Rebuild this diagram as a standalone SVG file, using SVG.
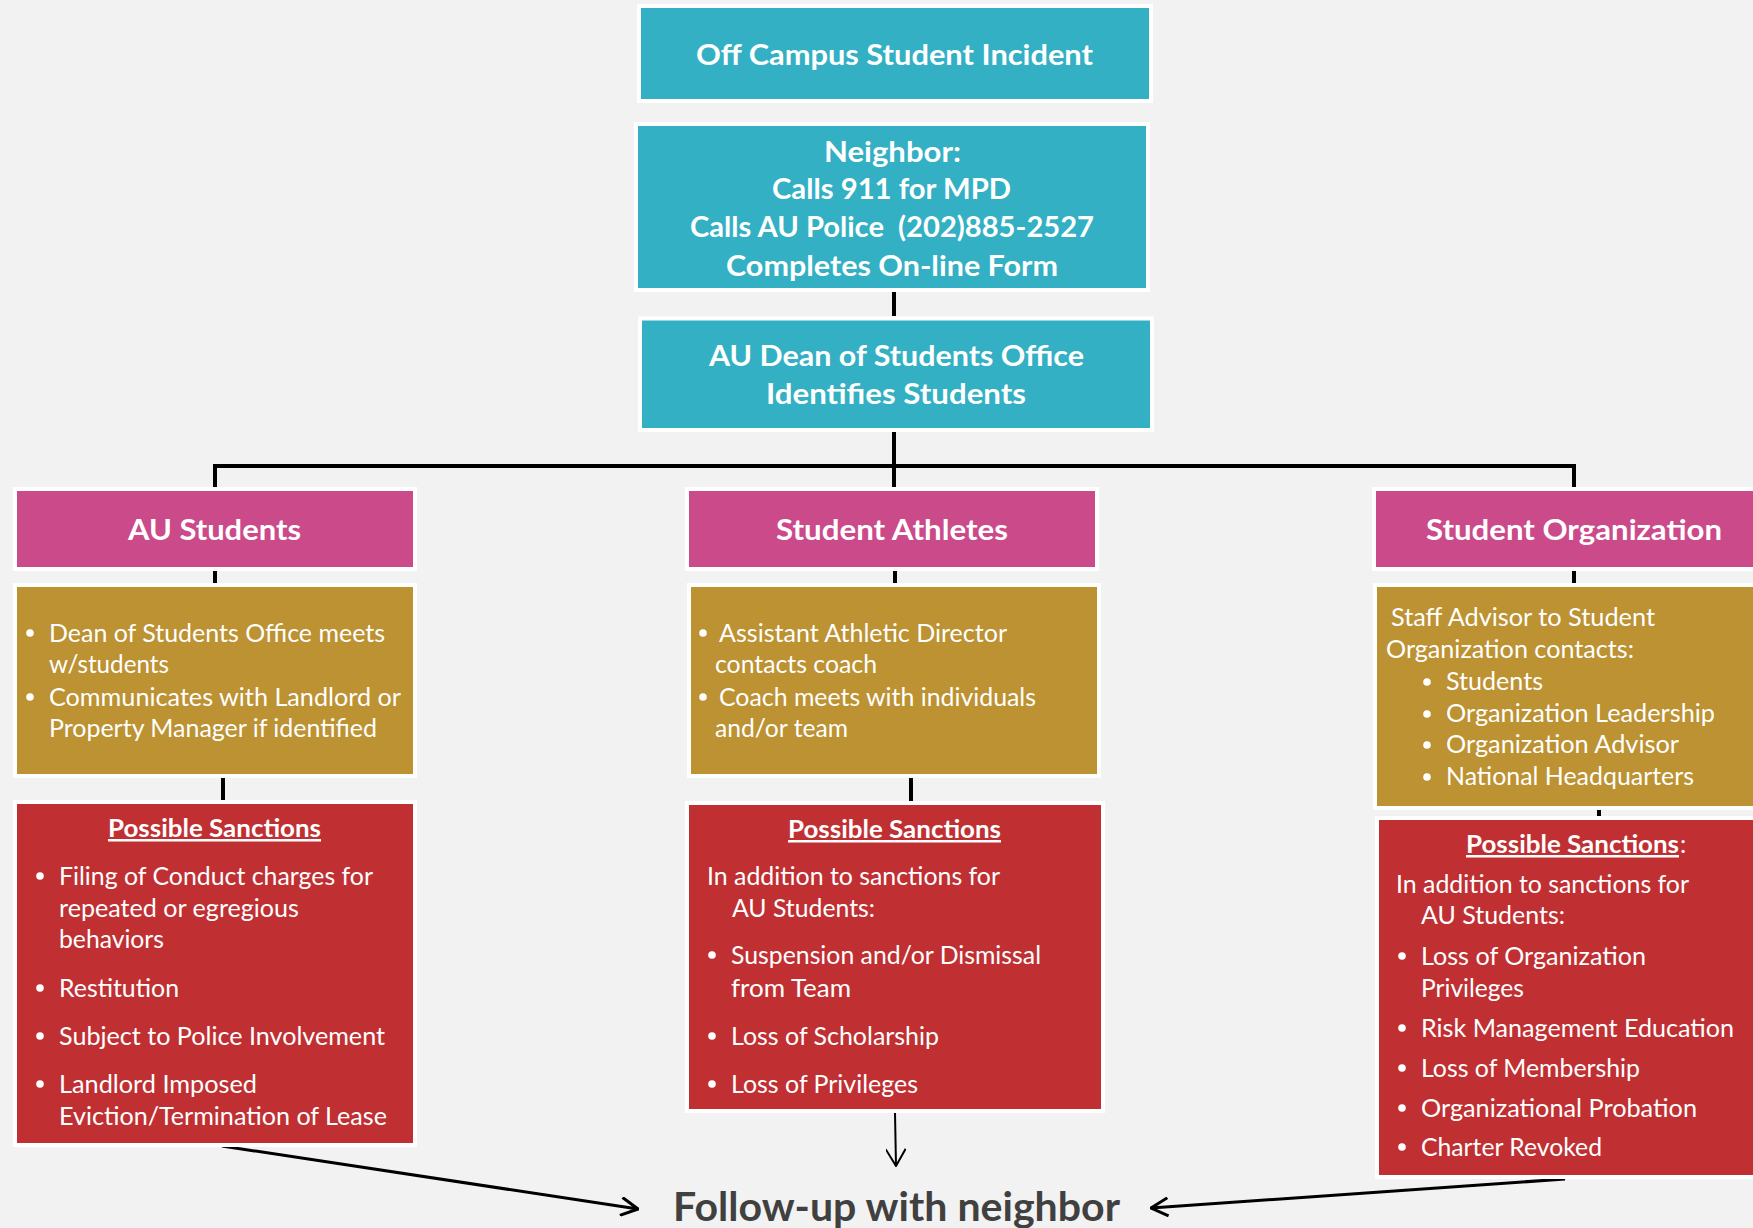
<svg xmlns="http://www.w3.org/2000/svg" width="1753" height="1228" viewBox="0 0 1753 1228">
<style>
.teal{fill:#33b0c3;stroke:#fff;stroke-width:4}
.pink{fill:#cb4a8a;stroke:#fff;stroke-width:4}
.gold{fill:#bc9232;stroke:#fff;stroke-width:4}
.red{fill:#c03033;stroke:#fff;stroke-width:4}
.t{font-family:Lato,"Open Sans",sans-serif;fill:#fff;font-weight:bold;font-size:29px}
.h{font-family:Lato,"Open Sans",sans-serif;fill:#fff;font-weight:bold;font-size:25px;text-decoration:underline}
.b{font-family:Lato,"Open Sans",sans-serif;fill:#fff;font-size:25px}
.bul{fill:#fff}
.c{stroke:#000;stroke-width:4;fill:none}
.a{stroke:#000;stroke-width:3;fill:none}
.f{font-family:Lato,"Open Sans",sans-serif;fill:#404040;font-weight:bold;font-size:40px}
</style>
<defs>
<marker id="arr" viewBox="0 0 20 20" refX="19" refY="10" markerWidth="20" markerHeight="20" markerUnits="userSpaceOnUse" orient="auto">
<path d="M2,1 L19,10 L2,19" fill="none" stroke="#000" stroke-width="3"/>
</marker>
<marker id="arr2" viewBox="0 0 20 20" refX="19" refY="10" markerWidth="20" markerHeight="20" markerUnits="userSpaceOnUse" orient="auto">
<path d="M2,0 L19,10 L2,20" fill="none" stroke="#000" stroke-width="2"/>
</marker>
</defs>
<rect width="1753" height="1228" fill="#f2f2f2"/>

<g id="connectors">
<line class="c" x1="894" y1="292" x2="894" y2="316"/>
<line class="c" x1="894" y1="432" x2="894" y2="489"/>
<polyline class="c" points="215,489 215,466 1574,466 1574,489"/>
<line class="c" x1="215" y1="571" x2="215" y2="585"/>
<line class="c" x1="223" y1="778" x2="223" y2="802"/>
<line class="c" x1="895" y1="571" x2="895" y2="585"/>
<line class="c" x1="911" y1="778" x2="911" y2="802"/>
<line class="c" x1="1574" y1="571" x2="1574" y2="585"/>
<line class="c" x1="1599" y1="810" x2="1599" y2="816"/>
<line class="a" x1="222" y1="1146" x2="638" y2="1209" marker-end="url(#arr)"/>
<line class="a" x1="1565" y1="1179" x2="1151" y2="1208" marker-end="url(#arr)"/>
<line stroke="#000" stroke-width="2" x1="895" y1="1113" x2="896" y2="1166" marker-end="url(#arr2)"/>
</g>

<g id="incident">
<rect class="teal" x="639" y="6" width="512" height="95"/>
<text class="t" x="696" y="65" textLength="397" lengthAdjust="spacingAndGlyphs">Off Campus Student Incident</text>
</g>

<g id="neighbor">
<rect class="teal" x="636" y="124" width="512" height="166"/>
<text class="t" x="824" y="162" textLength="137" lengthAdjust="spacingAndGlyphs">Neighbor:</text>
<text class="t" x="772" y="199" textLength="239" lengthAdjust="spacingAndGlyphs">Calls 911 for MPD</text>
<text class="t" x="690" y="237" textLength="404" lengthAdjust="spacingAndGlyphs" xml:space="preserve">Calls AU Police  (202)885-2527</text>
<text class="t" x="726" y="276" textLength="332" lengthAdjust="spacingAndGlyphs">Completes On-line Form</text>
</g>

<g id="dean">
<rect class="teal" x="640" y="318.5" width="512" height="111.5"/>
<text class="t" x="709" y="366" textLength="375" lengthAdjust="spacingAndGlyphs">AU Dean of Students Office</text>
<text class="t" x="766" y="404" textLength="260" lengthAdjust="spacingAndGlyphs">Identifies Students</text>
</g>

<g id="au-students">
<rect class="pink" x="15" y="489" width="400" height="80"/>
<text class="t" x="128" y="540" textLength="173" lengthAdjust="spacingAndGlyphs">AU Students</text>
</g>

<g id="au-actions">
<rect class="gold" x="15" y="585" width="400" height="191"/>
<circle class="bul" cx="30" cy="633" r="3.8"/>
<text class="b" x="49" y="642" textLength="336" lengthAdjust="spacingAndGlyphs">Dean of Students Office meets</text>
<text class="b" x="49" y="673" textLength="120" lengthAdjust="spacingAndGlyphs">w/students</text>
<circle class="bul" cx="30" cy="697" r="3.8"/>
<text class="b" x="49" y="706" textLength="352" lengthAdjust="spacingAndGlyphs">Communicates with Landlord or</text>
<text class="b" x="49" y="737" textLength="328" lengthAdjust="spacingAndGlyphs">Property Manager if identified</text>
</g>

<g id="au-sanctions">
<rect class="red" x="15" y="802" width="400" height="343"/>
<text class="h" x="108" y="837" textLength="213" lengthAdjust="spacingAndGlyphs">Possible Sanctions</text>
<circle class="bul" cx="40" cy="876" r="3.8"/>
<text class="b" x="59" y="885" textLength="314" lengthAdjust="spacingAndGlyphs">Filing of Conduct charges for</text>
<text class="b" x="59" y="917" textLength="240" lengthAdjust="spacingAndGlyphs">repeated or egregious</text>
<text class="b" x="59" y="948" textLength="105" lengthAdjust="spacingAndGlyphs">behaviors</text>
<circle class="bul" cx="40" cy="988" r="3.8"/>
<text class="b" x="59" y="997" textLength="120" lengthAdjust="spacingAndGlyphs">Restitution</text>
<circle class="bul" cx="40" cy="1036" r="3.8"/>
<text class="b" x="59" y="1045" textLength="326" lengthAdjust="spacingAndGlyphs">Subject to Police Involvement</text>
<circle class="bul" cx="40" cy="1084" r="3.8"/>
<text class="b" x="59" y="1093" textLength="198" lengthAdjust="spacingAndGlyphs">Landlord Imposed</text>
<text class="b" x="59" y="1125" textLength="328" lengthAdjust="spacingAndGlyphs">Eviction/Termination of Lease</text>
</g>

<g id="athletes">
<rect class="pink" x="687" y="489" width="410" height="80"/>
<text class="t" x="776" y="540" textLength="232" lengthAdjust="spacingAndGlyphs">Student Athletes</text>
</g>

<g id="athletes-actions">
<rect class="gold" x="689" y="585" width="410" height="191"/>
<circle class="bul" cx="703" cy="633" r="3.8"/>
<text class="b" x="719" y="642" textLength="288" lengthAdjust="spacingAndGlyphs">Assistant Athletic Director</text>
<text class="b" x="715" y="673" textLength="162" lengthAdjust="spacingAndGlyphs">contacts coach</text>
<circle class="bul" cx="703" cy="697" r="3.8"/>
<text class="b" x="719" y="706" textLength="317" lengthAdjust="spacingAndGlyphs">Coach meets with individuals</text>
<text class="b" x="715" y="737" textLength="133" lengthAdjust="spacingAndGlyphs">and/or team</text>
</g>

<g id="athletes-sanctions">
<rect class="red" x="687" y="803" width="416" height="308"/>
<text class="h" x="788" y="838" textLength="213" lengthAdjust="spacingAndGlyphs">Possible Sanctions</text>
<text class="b" x="707" y="885" textLength="293" lengthAdjust="spacingAndGlyphs">In addition to sanctions for</text>
<text class="b" x="732" y="917" textLength="143" lengthAdjust="spacingAndGlyphs">AU Students:</text>
<circle class="bul" cx="712" cy="955" r="3.8"/>
<text class="b" x="731" y="964" textLength="310" lengthAdjust="spacingAndGlyphs">Suspension and/or Dismissal</text>
<text class="b" x="731" y="997" textLength="120" lengthAdjust="spacingAndGlyphs">from Team</text>
<circle class="bul" cx="712" cy="1036" r="3.8"/>
<text class="b" x="731" y="1045" textLength="208" lengthAdjust="spacingAndGlyphs">Loss of Scholarship</text>
<circle class="bul" cx="712" cy="1084" r="3.8"/>
<text class="b" x="731" y="1093" textLength="187" lengthAdjust="spacingAndGlyphs">Loss of Privileges</text>
</g>

<g id="organization">
<rect class="pink" x="1374" y="489" width="400" height="80"/>
<text class="t" x="1426" y="540" textLength="296" lengthAdjust="spacingAndGlyphs">Student Organization</text>
</g>

<g id="organization-actions">
<rect class="gold" x="1375" y="585" width="400" height="223"/>
<text class="b" x="1391" y="626" textLength="264" lengthAdjust="spacingAndGlyphs">Staff Advisor to Student</text>
<text class="b" x="1386" y="658" textLength="248" lengthAdjust="spacingAndGlyphs">Organization contacts:</text>
<circle class="bul" cx="1427" cy="682" r="3.8"/>
<text class="b" x="1446" y="690" textLength="97" lengthAdjust="spacingAndGlyphs">Students</text>
<circle class="bul" cx="1427" cy="714" r="3.8"/>
<text class="b" x="1446" y="722" textLength="269" lengthAdjust="spacingAndGlyphs">Organization Leadership</text>
<circle class="bul" cx="1427" cy="745" r="3.8"/>
<text class="b" x="1446" y="753" textLength="233" lengthAdjust="spacingAndGlyphs">Organization Advisor</text>
<circle class="bul" cx="1427" cy="777" r="3.8"/>
<text class="b" x="1446" y="785" textLength="248" lengthAdjust="spacingAndGlyphs">National Headquarters</text>
</g>

<g id="organization-sanctions">
<rect class="red" x="1377" y="818" width="400" height="359"/>
<text class="h" x="1466" y="853" textLength="213" lengthAdjust="spacingAndGlyphs">Possible Sanctions</text>
<text class="b" x="1680" y="853">:</text>
<text class="b" x="1396" y="893" textLength="293" lengthAdjust="spacingAndGlyphs">In addition to sanctions for</text>
<text class="b" x="1421" y="924" textLength="144" lengthAdjust="spacingAndGlyphs">AU Students:</text>
<circle class="bul" cx="1402" cy="956" r="3.8"/>
<text class="b" x="1421" y="965" textLength="225" lengthAdjust="spacingAndGlyphs">Loss of Organization</text>
<text class="b" x="1421" y="997" textLength="103" lengthAdjust="spacingAndGlyphs">Privileges</text>
<circle class="bul" cx="1402" cy="1028" r="3.8"/>
<text class="b" x="1421" y="1037" textLength="313" lengthAdjust="spacingAndGlyphs">Risk Management Education</text>
<circle class="bul" cx="1402" cy="1068" r="3.8"/>
<text class="b" x="1421" y="1077" textLength="219" lengthAdjust="spacingAndGlyphs">Loss of Membership</text>
<circle class="bul" cx="1402" cy="1108" r="3.8"/>
<text class="b" x="1421" y="1117" textLength="276" lengthAdjust="spacingAndGlyphs">Organizational Probation</text>
<circle class="bul" cx="1402" cy="1147" r="3.8"/>
<text class="b" x="1421" y="1156" textLength="181" lengthAdjust="spacingAndGlyphs">Charter Revoked</text>
</g>

<g id="follow-up">
<text class="f" x="673" y="1221" textLength="447" lengthAdjust="spacingAndGlyphs">Follow-up with neighbor</text>
</g>
</svg>
